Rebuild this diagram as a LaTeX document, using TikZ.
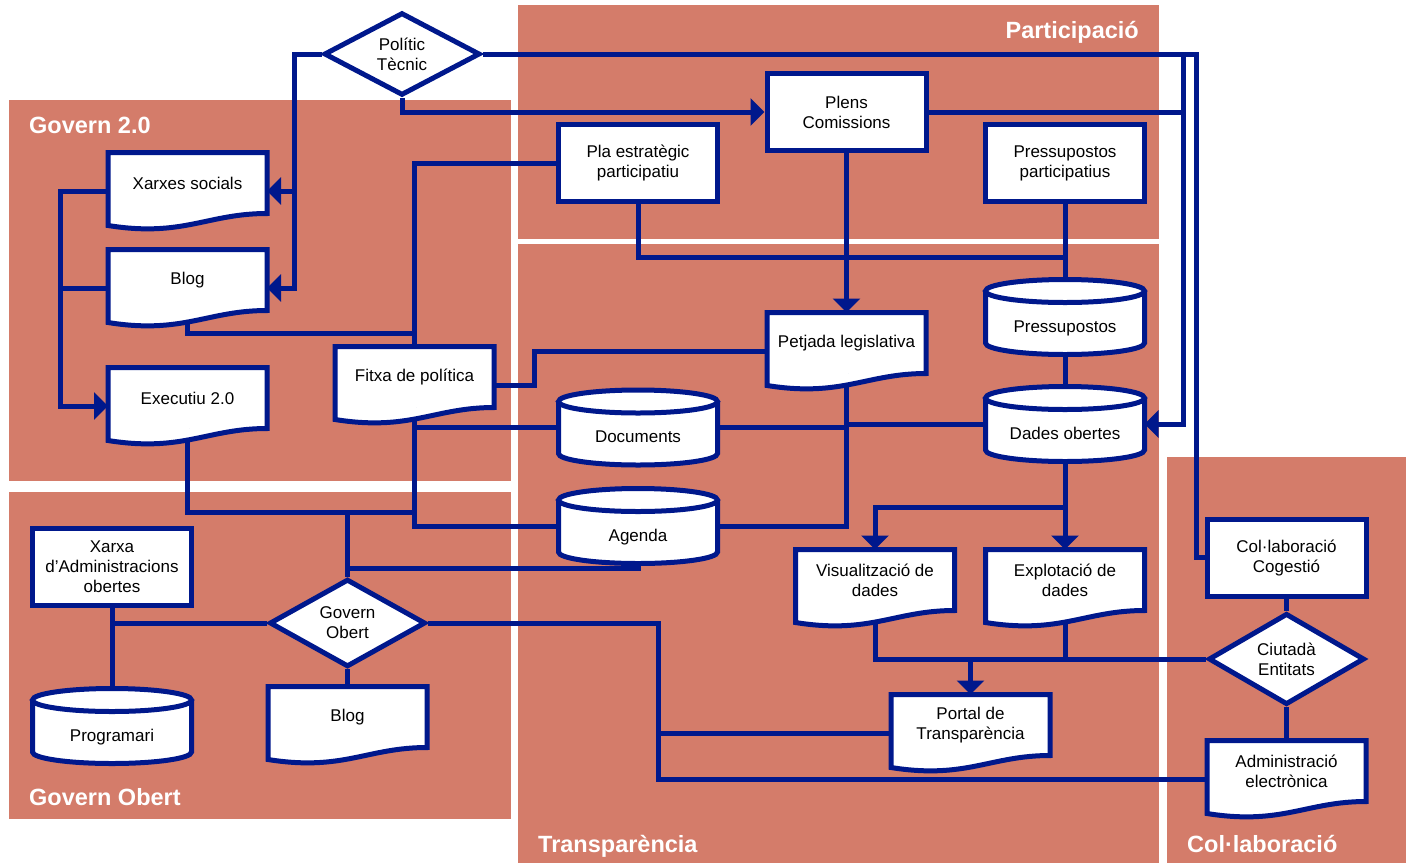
\documentclass[tikz,border=0pt]{standalone}
\usepackage{fontspec}
\setmainfont{Liberation Sans}
\usepackage{tikz}
\usetikzlibrary{shapes.geometric}
\usetikzlibrary{arrows.meta}
\usetikzlibrary{calc}
\definecolor{navy}{RGB}{0,24,140}
\definecolor{panel}{RGB}{212,124,106}
\newcommand{\boxfont}{\fontsize{17}{20}\selectfont}
\newcommand{\zonefont}{\fontsize{23.5}{28}\selectfont\bfseries}
\tikzstyle{zone} = [fill=panel]
\tikzstyle{zonename} = [text=white, font=\zonefont, inner sep=0pt]
\tikzstyle{proc} = [rectangle, draw=navy, line width=5pt, fill=white,
                    minimum width=159pt, minimum height=77pt, align=center, font=\boxfont]
\tikzstyle{choice} = [diamond, draw=navy, line width=5pt, fill=white, inner sep=0pt,
                      minimum width=156pt, minimum height=77pt, align=center, font=\boxfont]
\tikzstyle{doc} = [rectangle, fill=white, outer sep=0pt,
                   minimum width=159pt, minimum height=61pt, align=center, font=\boxfont]
\tikzstyle{store} = [rectangle, fill=white, outer sep=0pt, inner sep=0pt,
                     minimum width=159pt, minimum height=52pt, text height=33pt, text depth=3pt, font=\boxfont]
\tikzstyle{docline} = [draw=navy, line width=5pt]
\tikzstyle{wire} = [draw=navy, line width=5pt]
\tikzstyle{feed} = [wire, -{Triangle[length=14pt,width=27pt]}]

\begin{document}
\begin{tikzpicture}[x=1pt,y=-1pt]
  \useasboundingbox (0,0) rectangle (1406,863);
  % zones
  \fill[zone] (9,100) rectangle (511,481);
  \fill[zone] (9,492) rectangle (511,819);
  \fill[zone] (518,5) rectangle (1159,239);
  \fill[zone] (518,244) rectangle (1159,863);
  \fill[zone] (1167,457) rectangle (1406,863);
  \node[zonename, anchor=base west] (tgov) at (29,133) {Govern 2.0};
  \node[zonename, anchor=base east] (tpart) at (1139,38) {Participació};
  \node[zonename, anchor=base west] (tobert) at (29,805) {Govern Obert};
  \node[zonename, anchor=base west] (ttransp) at (538,852) {Transparència};
  \node[zonename, anchor=base west] (tcol) at (1187,852) {Col·laboració};

  % participacio
  \node[choice] (pol) at (402,54) {Polític\\Tècnic};
  \node[proc] (plens) at (846.5,112) {Plens\\Comissions};
  \node[proc] (pla) at (638,163) {Pla estratègic\\participatiu};
  \node[proc] (ppart) at (1065,163) {Pressupostos\\participatius};
  % govern 2.0
  \node[doc, anchor=north] (xarxes) at (187.5,152.5) {Xarxes socials};
  \node[doc, below of=xarxes, node distance=97pt] (blog) {Blog};
  \node[doc, below of=blog, node distance=118pt] (exec) {Executiu 2.0};
  \node[doc, anchor=north] (fitxa) at (414.5,346.5) {Fitxa de política};
  % transparencia
  \node[doc, anchor=north] (petjada) at (846.5,312.5) {Petjada legislativa};
  \node[store] (press) at (1065,317) {Pressupostos};
  \node[store, below of=press, node distance=107pt] (dades) {Dades obertes};
  \node[store] (docs) at (638,427.5) {Documents};
  \node[store, below of=docs, node distance=98.5pt] (agenda) {Agenda};
  \node[doc, anchor=north] (visual) at (875,549.5) {Visualització de\\dades};
  \node[doc, right of=visual, node distance=190pt] (explot) {Explotació de\\dades};
  \node[doc, anchor=north] (portal) at (970.5,694.5) {Portal de\\Transparència};
  % col.laboracio
  \node[proc] (col) at (1286.5,557.5) {Col·laboració\\Cogestió};
  \node[choice] (ciut) at (1286.5,659) {Ciutadà\\Entitats};
  \node[doc, anchor=north] (admin) at (1286.5,740.5) {Administració\\electrònica};
  % govern obert
  \node[proc] (xadm) at (112,567) {Xarxa\\d’Administracions\\obertes};
  \node[choice] (gobert) at (347.5,623) {Govern\\Obert};
  \node[store] (prog) at (112,726) {Programari};
  \node[doc, anchor=north] (blogob) at (347.5,686.5) {Blog};

  % side points of the documents
  \foreach \n in {xarxes,blog,exec,fitxa,petjada,visual,explot,portal,admin,blogob}{
    \coordinate (\n-l) at ($(\n.west)+(0,8)$);
    \coordinate (\n-r) at ($(\n.east)+(0,8)$);
  }

  % from politic / tecnic
  \draw[feed] (pol.west) -- ++(-27,0) coordinate (pbus) |- (blog-r);
  \draw[feed] (pbus |- xarxes-r) -- (xarxes-r);
  \draw[feed] (pol.south) |- (plens.west);
  \coordinate (rbus) at ($(dades.east)+(38.5,0)$);
  \draw[wire] (pol.east) -| ($(col.west)+(-8,0)$) -- (col.west);
  \draw[feed] (rbus |- pol.east) -- (rbus) -- (dades.east);
  \draw[wire] (plens.east) -- (rbus |- plens.east);

  % participacio
  \draw[wire] (pla.west) -| (fitxa.north);
  \draw[wire] (blog.south) |- ($(fitxa.north)+(0,-13)$);
  \coordinate (pbud) at (1065,257);
  \draw[wire] (pla.south) |- (pbud);
  \draw[wire] (ppart.south) -- (press.north);
  \draw[feed] (plens.south) -- (petjada.north);

  % transparencia
  \draw[wire] (petjada-l) -- ++(-233,0) |- (fitxa-r);
  \draw[wire] (petjada.south) |- (agenda.east);
  \draw[wire] (docs.east) -- (docs.east -| petjada.south);
  \draw[wire] (dades.west -| petjada.south) -- (dades.west);
  \draw[wire] (docs.west) -- (docs.west -| fitxa.south);
  \draw[wire] (fitxa.south) |- (agenda.west);
  \draw[wire] (press.south) -- (dades.north);
  \draw[feed] (dades.south) -- (explot.north);
  \draw[feed] (dades.south) |- ($(visual.north)+(0,-42)$) -- (visual.north);
  \draw[wire] (visual.south) |- (ciut.west);
  \draw[wire] (explot.south) -- (explot.south |- ciut.west);
  \draw[feed] (portal.north |- ciut.west) -- (portal.north);

  % col.laboracio
  \draw[wire] (col.south) -- (ciut.north);
  \draw[wire] (ciut.south) -- (admin.north);

  % govern 2.0
  \draw[feed] (xarxes-l) -- ++(-48,0) coordinate (gbus) |- (exec-l);
  \draw[wire] (blog-l) -- (blog-l -| gbus);
  \coordinate (ghub) at (347.5,512);
  \draw[wire] (exec.south) |- (ghub) -- (ghub -| fitxa.south);
  \draw[wire] (gobert.north) -- (ghub);
  \draw[wire] (agenda.south) |- ($(gobert.north)+(0,-8)$);

  % govern obert
  \draw[wire] (xadm.south) -- (prog.north);
  \draw[wire] (gobert.west) -- (gobert.west -| xadm.south);
  \draw[wire] (gobert.south) -- (blogob.north);
  \coordinate (tbar) at (658,700);
  \draw[wire] (gobert.east) -| (tbar |- admin-l) -- (admin-l);
  \draw[wire] (portal-l) -- (portal-l -| tbar);

  % document outlines
  \foreach \n in {xarxes,blog,exec,fitxa,petjada,visual,explot,portal,admin,blogob}{
    \fill[white] (\n.south west) -- ++(0,12) .. controls +(75,12) and +(-60,0) .. (\n.south east) -- cycle;
    \draw[docline] (\n.north west) -- (\n.north east) -- (\n.south east)
      .. controls +(-60,0) and +(75,12) .. ($(\n.south west)+(0,12)$) -- cycle;
  }
  % storage outlines
  \foreach \n in {press,dades,docs,agenda,prog}{
    \fill[white] (\n.north) ellipse [x radius=79.5pt, y radius=11.5pt];
    \fill[white] (\n.south west) arc [start angle=180, end angle=360, x radius=79.5pt, y radius=11.5pt] -- cycle;
    \draw[docline] (\n.north) ellipse [x radius=79.5pt, y radius=11.5pt];
    \draw[docline] (\n.north west) -- (\n.south west)
      arc [start angle=180, end angle=360, x radius=79.5pt, y radius=11.5pt] -- (\n.north east);
  }
\end{tikzpicture}
\end{document}
